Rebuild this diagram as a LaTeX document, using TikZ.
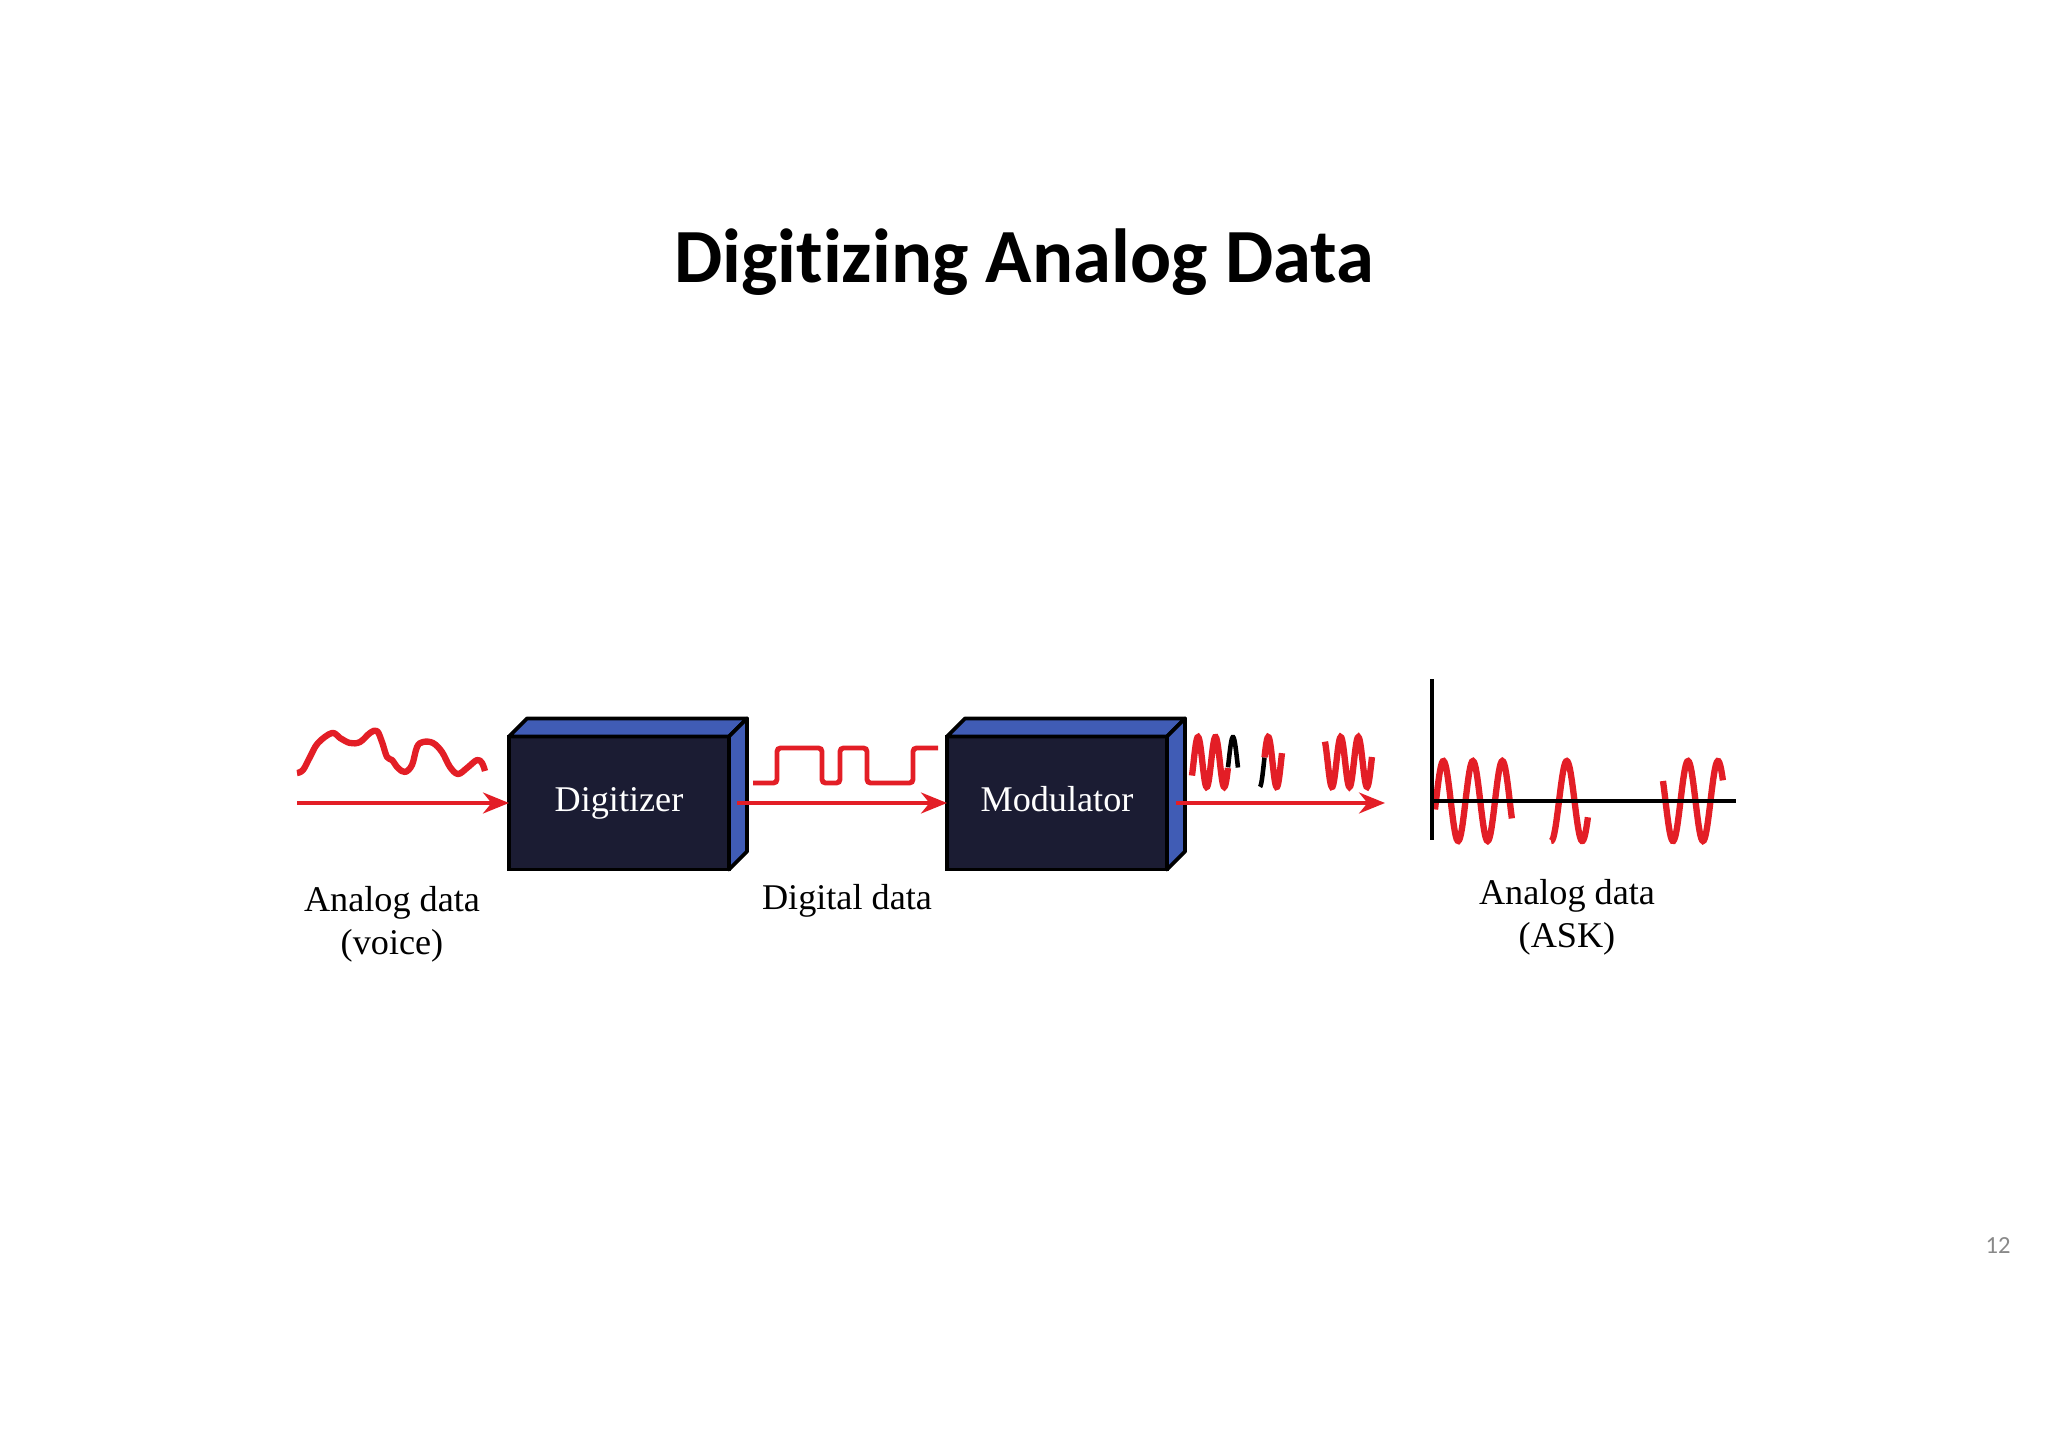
\documentclass[tikz,border=0pt]{standalone}
\usepackage{fontspec}
\setmainfont{Liberation Serif}
\newfontfamily\slidefont[Ligatures=NoCommon]{Carlito}
\usetikzlibrary{positioning,calc,arrows.meta}
\definecolor{sigred}{RGB}{227,30,38}
\definecolor{boxfront}{RGB}{27,28,51}
\definecolor{boxside}{RGB}{64,92,181}
\definecolor{pagegray}{RGB}{137,137,137}

\begin{document}
\begin{tikzpicture}[
    box/.style={draw, line width=1.1pt, outer sep=0pt, fill=boxfront, text=white,
        minimum width=2.2cm, minimum height=1.33cm, text height=0.683em, text depth=0.217em,
        font=\fontsize{10.3}{12.2}\selectfont},
    face/.style={draw, line width=1.1pt, fill=boxside, line join=round},
    sig/.style={-{Stealth[length=2.6mm,width=2.1mm]}, sigred, line width=0.95pt},
    wave/.style={draw=sigred, line width=1.8pt},
    lbl/.style={align=center, inner sep=0pt, font=\fontsize{10.3}{12.2}\selectfont}]

\useasboundingbox (0,0) rectangle (20.48,14.48);

\node[font=\slidefont\bfseries\fontsize{21.8}{26}\selectfont, anchor=base] (title) at (10.24,11.65) {Digitizing Analog Data};

\node[box] (dig) at (6.19,6.45) {Digitizer};
\node[box, right=2.18cm of dig] (mod) {Modulator};

\foreach \b in {dig,mod}{
  \draw[face] (\b.north west) -- ++(0.18,0.18) -- ($(\b.north east)+(0.18,0.18)$) -- (\b.north east) -- cycle;
  \draw[face] (\b.north east) -- ++(0.18,0.18) -- ($(\b.south east)+(0.18,0.18)$) -- (\b.south east) -- cycle;
}

\coordinate (vin) at (2.97,6.45);
\coordinate (aout) at (13.85,6.45);
\draw[sig] (vin) -- (dig.west);
\draw[sig] ([xshift=0.8mm]dig.east) -- (mod.west);
\draw[sig] ([xshift=0.9mm]mod.east) -- (aout);

\draw[wave, line width=1.8pt, line join=round] plot[smooth, tension=0.6] coordinates {
  (2.97,6.75) (3.03,6.78) (3.10,6.91) (3.18,7.05) (3.32,7.15) (3.40,7.10) (3.50,7.05)
  (3.60,7.06) (3.70,7.15) (3.77,7.17) (3.82,7.06) (3.87,6.91) (3.92,6.88) (3.98,6.80)
  (4.05,6.76) (4.12,6.83) (4.17,7.01) (4.23,7.06) (4.33,7.05) (4.42,6.96) (4.50,6.81)
  (4.58,6.74) (4.67,6.80) (4.77,6.88) (4.82,6.85) (4.85,6.77)};

\draw[wave, line width=1.4pt, rounded corners=1pt] (7.53,6.65) -- (7.77,6.65) -- (7.77,7.00) -- (8.22,7.00)
  -- (8.22,6.65) -- (8.40,6.65) -- (8.40,7.00) -- (8.67,7.00) -- (8.67,6.65)
  -- (9.13,6.65) -- (9.13,7.00) -- (9.38,7.00);

\draw[wave] plot[domain=11.92:12.28, samples=60] (\x,{6.86+0.25*sin(360*(\x-11.936)/0.175)});
\draw[wave, draw=black, line width=1.3pt] plot[domain=12.28:12.38, samples=20] (\x,{6.86+0.25*sin(360*(\x-11.936)/0.175)});
\draw[wave, draw=black, line width=1.3pt] plot[domain=12.60:12.645, samples=10] (\x,{6.86+0.25*sin(360*(\x-12.64)/0.17)});
\draw[wave] plot[domain=12.645:12.82, samples=30] (\x,{6.86+0.25*sin(360*(\x-12.64)/0.17)});
\draw[wave] plot[domain=13.25:13.72, samples=70] (\x,{6.86+0.25*sin(360*(\x-13.364)/0.175)});

\draw[wave] plot[domain=14.35:15.12, samples=90] (\x,{6.47+0.40*sin(360*(\x-14.36)/0.295)});
\draw[wave] plot[domain=15.51:15.88, samples=50] (\x,{6.47+0.40*sin(360*(\x-15.59)/0.31)});
\draw[wave] plot[domain=16.63:17.23, samples=70] (\x,{6.47+0.40*sin(360*(\x-16.805)/0.30)});

\coordinate (o) at (14.32,6.47);
\draw[line width=1pt] (o |- 0,6.08) -- (o |- 0,7.69);
\draw[line width=1pt] (o) -- (17.36,6.47);

\node[lbl, anchor=north] (vlbl) at (3.92,5.62) {Analog data\\(voice)};
\node[lbl, anchor=base] (dlbl) at (8.47,5.38) {Digital data};
\node[lbl, anchor=north] (albl) at (15.67,5.69) {Analog data\\(ASK)};

\node[font=\slidefont\fontsize{7}{8}\selectfont, text=pagegray, anchor=base] (pg) at (19.98,1.94) {12};

\end{tikzpicture}
\end{document}
